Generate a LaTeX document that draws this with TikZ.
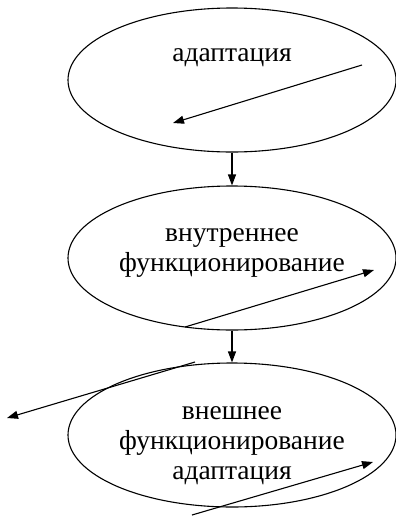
\documentclass[tikz,border=0pt]{standalone}
\usepackage{fontspec}
\setmainfont{Liberation Serif}
\newfontfamily\timesfont{Liberation Serif}
\usetikzlibrary{shapes.geometric,arrows.meta}
\begin{document}
\begin{tikzpicture}[x=1pt,y=-1pt,
  oval/.style={draw,ellipse,line width=1.1pt,minimum width=328pt,minimum height=144pt,inner sep=0pt},
  lbl/.style={align=center,font=\timesfont\fontsize{27.5}{30}\selectfont},
  arr/.style={line width=1.1pt,-{Triangle[length=11pt,width=8pt]}}]
\useasboundingbox (0,0) rectangle (396,517);
\node[oval] (e1) at (232,80) {};
\node[oval] (e2) at (232,258) {};
\node[oval] (e3) at (232,435) {};
\node[lbl] (t1) at (232,58) {адаптация};
\node[lbl] (t2) at (232,253) {внутреннее\\функционирование};
\node[lbl] (t3) at (232,446) {внешнее\\функционирование\\адаптация};
\draw[arr] (e1.south) -- (e2.north);
\draw[arr] (e2.south) -- (e3.north);
\coordinate (a1s) at (362,65);
\coordinate (a1e) at (173,123);
\coordinate (a2s) at (185,327);
\coordinate (a2e) at (374,270);
\coordinate (a3s) at (195,362);
\coordinate (a3e) at (7,418);
\coordinate (a4s) at (192,515);
\coordinate (a4e) at (373,462);
\draw[arr] (a1s) -- (a1e);
\draw[arr] (a2s) -- (a2e);
\draw[arr] (a3s) -- (a3e);
\draw[arr] (a4s) -- (a4e);
\end{tikzpicture}
\end{document}
